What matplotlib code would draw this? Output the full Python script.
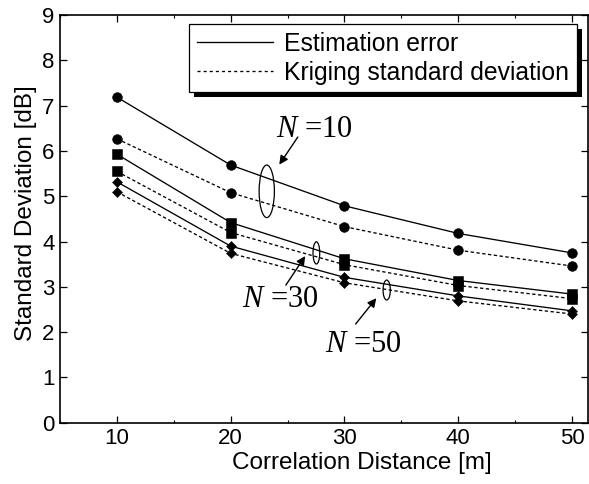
import matplotlib
matplotlib.use("Agg")
import matplotlib.pyplot as plt
from matplotlib.lines import Line2D
from matplotlib.patches import Ellipse, Rectangle
from matplotlib.ticker import MultipleLocator

plt.rcParams["font.family"] = ["Liberation Sans", "DejaVu Sans"]
plt.rcParams["mathtext.fontset"] = "custom"
plt.rcParams["mathtext.rm"] = "Liberation Serif"
plt.rcParams["mathtext.it"] = "Liberation Serif:italic"
plt.rcParams["lines.scale_dashes"] = False

# Correlation distance [m]
distance = [10, 20, 30, 40, 50]

# Standard deviation [dB] for N = 10, 30, 50 sensors
est_err_n10 = [7.19, 5.69, 4.79, 4.18, 3.75]
krig_sd_n10 = [6.27, 5.08, 4.33, 3.81, 3.46]
est_err_n30 = [5.93, 4.42, 3.62, 3.14, 2.84]
krig_sd_n30 = [5.55, 4.20, 3.49, 3.03, 2.74]
est_err_n50 = [5.32, 3.90, 3.21, 2.80, 2.47]
krig_sd_n50 = [5.10, 3.74, 3.09, 2.69, 2.40]

legend_labels = ["Estimation error", "Kriging standard deviation"]
group_labels = [r"$N$ =10", r"$N$ =30", r"$N$ =50"]

fig = plt.figure(figsize=(5.89, 4.84), dpi=100)
ax = fig.add_axes([60 / 589, 1 - 422.7 / 484, 528 / 589, (422.7 - 15.2) / 484])

dash = (0, (2.4, 1.8))
lw = 0.95
series = [
    (est_err_n10, "-", "o", 7.0),
    (krig_sd_n10, dash, "o", 7.0),
    (est_err_n30, "-", "s", 7.6),
    (krig_sd_n30, dash, "s", 7.6),
    (est_err_n50, "-", "D", 4.6),
    (krig_sd_n50, dash, "D", 4.6),
]
for vals, ls, mk, ms in series:
    ax.plot(distance, vals, color="k", linestyle=ls, linewidth=lw,
            marker=mk, markersize=ms, markerfacecolor="k",
            markeredgecolor="k", markeredgewidth=0.4, zorder=3)

ax.set_xlim(5, 51.4)
ax.set_ylim(0, 9)
ax.xaxis.set_major_locator(MultipleLocator(10))
ax.xaxis.set_minor_locator(MultipleLocator(5))
ax.yaxis.set_major_locator(MultipleLocator(1))
ax.tick_params(which="major", direction="in", top=True, right=True,
               length=5, width=0.9, labelsize=16, pad=4)
ax.tick_params(which="minor", direction="in", top=True, bottom=True,
               length=2.5, width=0.8)
for s in ax.spines.values():
    s.set_linewidth(1.2)

ax.set_xlabel("Correlation Distance [m]", fontsize=17.5, va="center")
ax.set_ylabel("Standard Deviation [dB]", fontsize=17.5, va="center")
ax.xaxis.set_label_coords(0.571, -0.1)
ax.yaxis.set_label_coords(-0.064, 0.515)

handles = [
    Line2D([], [], color="k", linestyle="-", linewidth=lw),
    Line2D([], [], color="k", linestyle=(0, (2.2, 2.2)), linewidth=lw),
]
leg = ax.legend(handles, legend_labels, loc="upper right",
                bbox_to_anchor=(0.979, 0.978), borderaxespad=0,
                fontsize=17.8, frameon=True, fancybox=False,
                edgecolor="k", framealpha=1, handlelength=3.1,
                handletextpad=0.45, borderpad=0.3, labelspacing=0.2)
leg.get_frame().set_linewidth(0.9)
leg.set_zorder(6)

# Solid drop shadow behind the legend box
fig.canvas.draw()
bb = leg.get_window_extent().transformed(ax.transAxes.inverted())
off_x = 5 / 528
off_y = 5 / 407.5
ax.add_patch(Rectangle((bb.x0 + off_x, bb.y0 - off_y), bb.width, bb.height,
                       transform=ax.transAxes, facecolor="k",
                       edgecolor="none", clip_on=False, zorder=5.5))

# Group markers: ellipse around each pair of curves, arrow and label
ellipses = [((23.17, 5.11), 1.34, 1.16),
            ((27.53, 3.75), 0.59, 0.49),
            ((33.71, 2.93), 0.64, 0.44)]
for (cx, cy), w, h in ellipses:
    ax.add_patch(Ellipse((cx, cy), w, h, fill=False, edgecolor="k",
                         linewidth=0.9, zorder=4))

arrows = [((24.27, 5.70), (25.9, 6.31)),
          ((26.55, 3.68), (24.85, 3.04)),
          ((32.8, 2.75), (30.98, 2.18))]
for head, tail in arrows:
    ax.annotate("", xy=head, xytext=tail,
                arrowprops=dict(arrowstyle="-|>", color="k", lw=1.0,
                                shrinkA=0, shrinkB=0, mutation_scale=13),
                zorder=4)

label_pos = [(23.98, 6.31), (21.0, 2.56), (28.3, 1.57)]
for (tx, ty), txt in zip(label_pos, group_labels):
    ax.text(tx, ty, txt, fontsize=22, ha="left", va="baseline",
            family="Liberation Serif", zorder=4)

fig.savefig("out.png", dpi=100)
